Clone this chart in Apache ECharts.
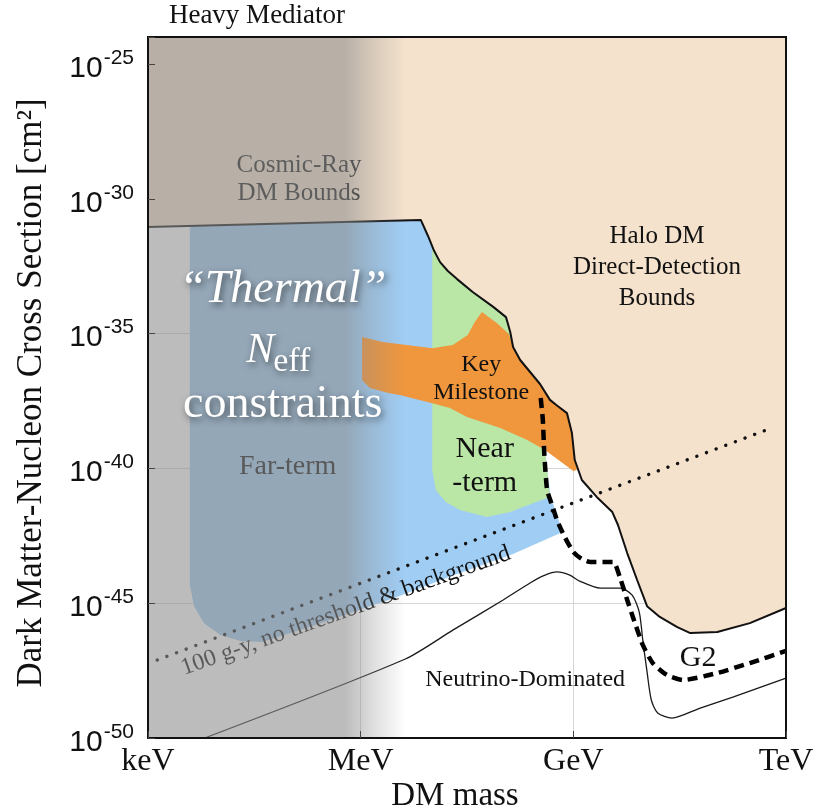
<!DOCTYPE html>
<html>
<head>
<meta charset="utf-8">
<script src="https://cdn.jsdelivr.net/npm/echarts@6/dist/echarts.min.js"></script>
<style>
  html, body { margin: 0; padding: 0; background: #fff; }
  #chart { width: 830px; height: 812px; }
</style>
</head>
<body>
<div id="chart"></div>
<script>
// Axes: x = log10(DM mass / GeV), y = log10(cross section / cm^2)
const massMin = -6, massMax = 3;
const sigmaMin = -50, sigmaMax = -24;
const massTicks = [-6, -3, 0, 3];
const massTickLabels = ['keV', 'MeV', 'GeV', 'TeV'];
const sigmaTicks = [-50, -45, -40, -35, -30, -25];

// Halo DM direct-detection bound (upper edge of allowed space)
const haloLogM = [-6.00, -2.15, -2.05, -1.97, -1.88, -1.77, -1.64, -1.42, -1.13, -0.95, -0.89, -0.85, -0.75, -0.47, -0.33, -0.24, -0.09, -0.02, 0.02, 0.12, 0.33, 0.55, 0.63, 0.76, 0.90, 1.04, 1.22, 1.46, 1.65, 2.03, 2.49, 3.00];
const haloLogSigma = [-31.05, -30.79, -31.38, -31.90, -32.35, -32.68, -32.98, -33.46, -34.01, -34.39, -34.94, -35.50, -35.98, -36.87, -37.46, -37.65, -37.95, -38.69, -39.69, -40.43, -41.06, -41.62, -42.10, -43.14, -44.14, -45.11, -45.51, -45.88, -46.11, -46.07, -45.74, -45.18];

// Far-term reach
const farLogM = [-5.41, -2.15, -2.05, -1.97, -1.88, -1.77, -1.64, -1.42, -1.13, -0.95, -0.89, -0.85, -0.75, -0.47, -0.41, -0.40, -0.36, -0.32, -0.15, -0.85, -1.64, -2.49, -3.64, -4.39, -4.70, -4.98, -5.21, -5.35, -5.41];
const farLogSigma = [-31.01, -30.79, -31.38, -31.90, -32.35, -32.68, -32.98, -33.46, -34.01, -34.39, -34.94, -35.50, -35.98, -36.87, -38.21, -39.32, -40.25, -41.06, -42.36, -43.18, -43.92, -44.77, -45.81, -46.44, -46.40, -46.18, -45.74, -45.11, -44.33];

// Near-term reach
const nearLogM = [-1.99, -1.97, -1.88, -1.77, -1.64, -1.42, -1.13, -0.95, -0.89, -0.85, -0.75, -0.47, -0.41, -0.40, -0.36, -0.33, -0.57, -0.89, -1.22, -1.60, -1.80, -1.94, -1.99];
const nearLogSigma = [-31.75, -31.90, -32.35, -32.68, -32.98, -33.46, -34.01, -34.39, -34.94, -35.50, -35.98, -36.87, -38.21, -39.32, -40.25, -41.06, -41.29, -41.62, -41.80, -41.54, -41.25, -40.80, -40.06];

// Key milestone band
const keyLogM = [-2.98, -2.69, -1.99, -1.70, -1.49, -1.39, -1.29, -1.08, -0.91, -0.85, -0.75, -0.47, -0.33, -0.24, -0.09, -0.02, 0.02, 0.05, 0.00, -0.19, -0.40, -0.65, -1.03, -1.50, -1.74, -1.99, -2.45, -2.61, -2.87, -2.98];
const keyLogSigma = [-35.13, -35.31, -35.54, -35.42, -35.05, -34.57, -34.20, -34.61, -35.02, -35.50, -35.98, -36.87, -37.46, -37.65, -37.95, -38.69, -39.69, -40.06, -40.10, -39.73, -39.32, -38.95, -38.50, -38.09, -37.76, -37.58, -37.28, -37.20, -37.02, -36.72];

// G2 projected sensitivity (dashed)
const g2LogM = [-0.46, -0.43, -0.41, -0.37, -0.30, -0.23, -0.12, 0.00, 0.12, 0.24, 0.56, 0.66, 0.76, 0.84, 0.98, 1.12, 1.32, 1.55, 2.03, 2.49, 3.00];
const g2LogSigma = [-37.39, -38.21, -39.43, -40.80, -41.36, -41.92, -42.55, -43.10, -43.36, -43.47, -43.47, -44.07, -44.88, -45.51, -46.55, -47.22, -47.66, -47.85, -47.59, -47.22, -46.77];

// Neutrino floor
const nuLogM = [-5.20, -2.37, -1.70, -0.99, -0.61, -0.40, -0.23, -0.05, 0.09, 0.38, 0.66, 0.83, 0.93, 0.98, 1.04, 1.10, 1.19, 1.39, 1.79, 2.25, 3.00];
const nuLogSigma = [-50.00, -47.07, -46.00, -44.88, -44.25, -43.96, -43.84, -43.96, -44.18, -44.44, -44.44, -44.70, -45.33, -46.37, -47.55, -48.59, -49.07, -49.26, -48.89, -48.48, -47.78];

// 100 g-y exposure, no threshold & background (dotted)
const exposureLogM = [-5.87, 2.80];
const exposureLogSigma = [-47.11, -38.50];

// Mass range shaded by the thermal N_eff constraints
const thermalLogM = [massMin, -2.37];

// Annotation anchors (data units)
const noteTexts = ['Cosmic-Ray\nDM Bounds', 'Halo DM\nDirect-Detection\nBounds', 'Far-term', 'Key\nMilestone', 'Near\n-term', 'Neutrino-Dominated', 'G2', '100 g-y, no threshold & background'];
const noteLogM = [-3.87, 1.18, -4.03, -1.30, -1.25, -0.68, 1.76, -3.21];
const noteLogSigma = [-29.27, -32.53, -39.95, -36.69, -39.91, -47.85, -47.03, -45.29];
const thermalNoteLogM = [-4.10, -4.22, -4.10];
const thermalNoteLogSigma = [-33.38, -35.65, -37.65];

const SERIF = '"Liberation Serif", "Times New Roman", Times, serif';
const SANS = '"Liberation Sans", Arial, Helvetica, sans-serif';

const pairs = (xs, ys) => xs.map((x, i) => [x, ys[i]]);

function areaSeries(name, xs, ys, fill, z) {
  return {
    name, type: 'custom', coordinateSystem: 'cartesian2d', silent: true, z,
    data: [[xs[0], ys[0]]],
    renderItem: (params, api) => ({
      type: 'polygon',
      shape: { points: pairs(xs, ys).map(p => api.coord(p)) },
      style: { fill }
    })
  };
}

function lineSeries(name, xs, ys, lineStyle, z, smooth) {
  return {
    name, type: 'line', silent: true, z, symbol: 'none', smooth: smooth || false,
    data: pairs(xs, ys), lineStyle
  };
}

const noteStyles = [
  { font: '25px ' + SERIF, fill: '#1a1a1a', lineHeight: 28 },
  { font: '25px ' + SERIF, fill: '#111', lineHeight: 31 },
  { font: '28px ' + SERIF, fill: '#111' },
  { font: '24px ' + SERIF, fill: '#111', lineHeight: 28 },
  { font: '30px ' + SERIF, fill: '#111', lineHeight: 34 },
  { font: '24px ' + SERIF, fill: '#111' },
  { font: '30px ' + SERIF, fill: '#111' },
  { font: '24px ' + SERIF, fill: '#111' }
];

const glow = { fill: '#fff', textShadowColor: 'rgba(0,0,0,0.55)', textShadowBlur: 7, textShadowOffsetX: 2, textShadowOffsetY: 3 };

// Extended halo area: bound plus the top edge of the frame
const haloAreaLogM = haloLogM.concat([massMax, massMin]);
const haloAreaLogSigma = haloLogSigma.concat([sigmaMax, sigmaMax]);

const series = [
  areaSeries('Halo DM bounds', haloAreaLogM, haloAreaLogSigma, '#f5e2cd', 2),
  areaSeries('Far-term', farLogM, farLogSigma, '#a0cdf4', 3),
  areaSeries('Near-term', nearLogM, nearLogSigma, '#bae6a6', 4),
  areaSeries('Key Milestone', keyLogM, keyLogSigma, '#f0963c', 5),
  lineSeries('Neutrino floor', nuLogM, nuLogSigma, { color: '#1a1a1a', width: 1.3 }, 6, 0.25),
  lineSeries('100 g-y', exposureLogM, exposureLogSigma, { color: '#111', width: 3.4, type: [0.1, 10.2], cap: 'round' }, 6),
  lineSeries('G2', g2LogM, g2LogSigma, { color: '#000', width: 4.5, type: [10, 6] }, 6, 0.2),
  lineSeries('Halo bound', haloLogM, haloLogSigma, { color: '#111', width: 2 }, 6),
  {
    name: 'notes', type: 'custom', coordinateSystem: 'cartesian2d', silent: true, z: 7,
    data: [[noteLogM[0], noteLogSigma[0]]],
    renderItem: (params, api) => {
      const a = api.coord([exposureLogM[0], exposureLogSigma[0]]);
      const b = api.coord([exposureLogM[1], exposureLogSigma[1]]);
      const slope = Math.atan2(a[1] - b[1], b[0] - a[0]);
      return {
        type: 'group',
        children: noteTexts.map((t, i) => {
          const p = api.coord([noteLogM[i], noteLogSigma[i]]);
          return {
            type: 'text', x: p[0], y: p[1], rotation: i === 7 ? slope - 0.02 : 0,
            style: Object.assign({ text: t, align: 'center', verticalAlign: 'middle' }, noteStyles[i])
          };
        })
      };
    }
  },
  {
    name: 'Thermal Neff constraints', type: 'custom', coordinateSystem: 'cartesian2d', silent: true, z: 8,
    data: [[thermalLogM[0], sigmaMin]],
    renderItem: (params, api) => {
      const xs = [thermalLogM[0], thermalLogM[1], thermalLogM[1], thermalLogM[0]];
      const ys = [sigmaMin, sigmaMin, sigmaMax, sigmaMax];
      return {
        type: 'polygon',
        shape: { points: pairs(xs, ys).map(p => api.coord(p)) },
        style: {
          fill: new echarts.graphic.LinearGradient(0, 0, 1, 0, [
            { offset: 0, color: 'rgba(140,140,140,0.58)' },
            { offset: 0.767, color: 'rgba(140,140,140,0.58)' },
            { offset: 0.88, color: 'rgba(140,140,140,0.27)' },
            { offset: 1, color: 'rgba(140,140,140,0)' }
          ])
        }
      };
    }
  },
  {
    name: 'Thermal label', type: 'custom', coordinateSystem: 'cartesian2d', silent: true, z: 9,
    data: [[thermalNoteLogM[0], thermalNoteLogSigma[0]]],
    renderItem: (params, api) => {
      const p0 = api.coord([thermalNoteLogM[0], thermalNoteLogSigma[0]]);
      const p1 = api.coord([thermalNoteLogM[1], thermalNoteLogSigma[1]]);
      const p2 = api.coord([thermalNoteLogM[2], thermalNoteLogSigma[2]]);
      return {
        type: 'group',
        children: [
          { type: 'text', x: p0[0], y: p0[1], style: Object.assign({ text: '\u201CThermal\u201D', font: 'italic 46px ' + SERIF, align: 'center', verticalAlign: 'middle' }, glow) },
          { type: 'text', x: p1[0], y: p1[1], style: Object.assign({ text: 'N', font: 'italic 42px ' + SERIF, align: 'right', verticalAlign: 'middle' }, glow) },
          { type: 'text', x: p1[0] - 1, y: p1[1] + 11, style: Object.assign({ text: 'eff', font: '34px ' + SERIF, align: 'left', verticalAlign: 'middle' }, glow) },
          { type: 'text', x: p2[0], y: p2[1], style: Object.assign({ text: 'constraints', font: '46px ' + SERIF, align: 'center', verticalAlign: 'middle' }, glow) }
        ]
      };
    }
  }
];

const option = {
  animation: false,
  backgroundColor: '#fff',
  grid: { left: 148, right: 44, top: 37, bottom: 74, show: true, borderColor: '#111', borderWidth: 2, backgroundColor: 'transparent', z: 30 },
  xAxis: [
    {
      type: 'value', min: massMin, max: massMax, interval: 3, position: 'bottom', z: 30,
      axisLine: { show: false, onZero: false }, splitLine: { show: false },
      axisTick: { inside: true, length: 7, lineStyle: { color: '#444' } },
      axisLabel: {
        margin: 8, color: '#111', fontFamily: SERIF, fontSize: 32,
        formatter: v => { const i = massTicks.indexOf(v); return i < 0 ? '' : massTickLabels[i]; }
      }
    },
    {
      type: 'value', min: massMin, max: massMax, interval: 3, position: 'top', z: 1,
      axisLine: { show: false, onZero: false }, axisTick: { show: false }, axisLabel: { show: false },
      splitLine: { show: true, lineStyle: { color: '#d6d6d6', width: 1 } }
    }
  ],
  yAxis: [
    {
      type: 'value', min: sigmaMin, max: sigmaMax, interval: 5, position: 'left', z: 30,
      axisLine: { show: false, onZero: false }, splitLine: { show: false },
      axisTick: { inside: true, length: 7, lineStyle: { color: '#444' } },
      axisLabel: {
        margin: 14, align: 'right', padding: [3, 0, 0, 0],
        formatter: v => sigmaTicks.indexOf(v) < 0 ? '' : '{b|10}{s|' + v + '}',
        rich: {
          b: { fontFamily: SANS, fontSize: 30, color: '#111', verticalAlign: 'bottom' },
          s: { fontFamily: SANS, fontSize: 21, color: '#111', verticalAlign: 'bottom', padding: [0, 0, 15, 1] }
        }
      }
    },
    {
      type: 'value', min: sigmaMin, max: sigmaMax, interval: 5, position: 'right', z: 1,
      axisLine: { show: false, onZero: false }, axisTick: { show: false }, axisLabel: { show: false },
      splitLine: { show: true, lineStyle: { color: '#d6d6d6', width: 1 } }
    }
  ],
  graphic: [
    { type: 'text', x: 257, y: 16, style: { text: 'Heavy Mediator', font: '27px ' + SERIF, fill: '#111', align: 'center', verticalAlign: 'middle' } },
    { type: 'text', x: 455, y: 796, style: { text: 'DM mass', font: '33px ' + SERIF, fill: '#111', align: 'center', verticalAlign: 'middle' } },
    { type: 'text', x: 32, y: 393, rotation: Math.PI / 2, style: { text: 'Dark Matter-Nucleon Cross Section [cm\u00B2]', font: '35px ' + SERIF, fill: '#111', align: 'center', verticalAlign: 'middle' } }
  ],
  series
};

const chart = echarts.init(document.getElementById('chart'), null, { renderer: 'canvas' });
chart.setOption(option);
</script>
</body>
</html>
